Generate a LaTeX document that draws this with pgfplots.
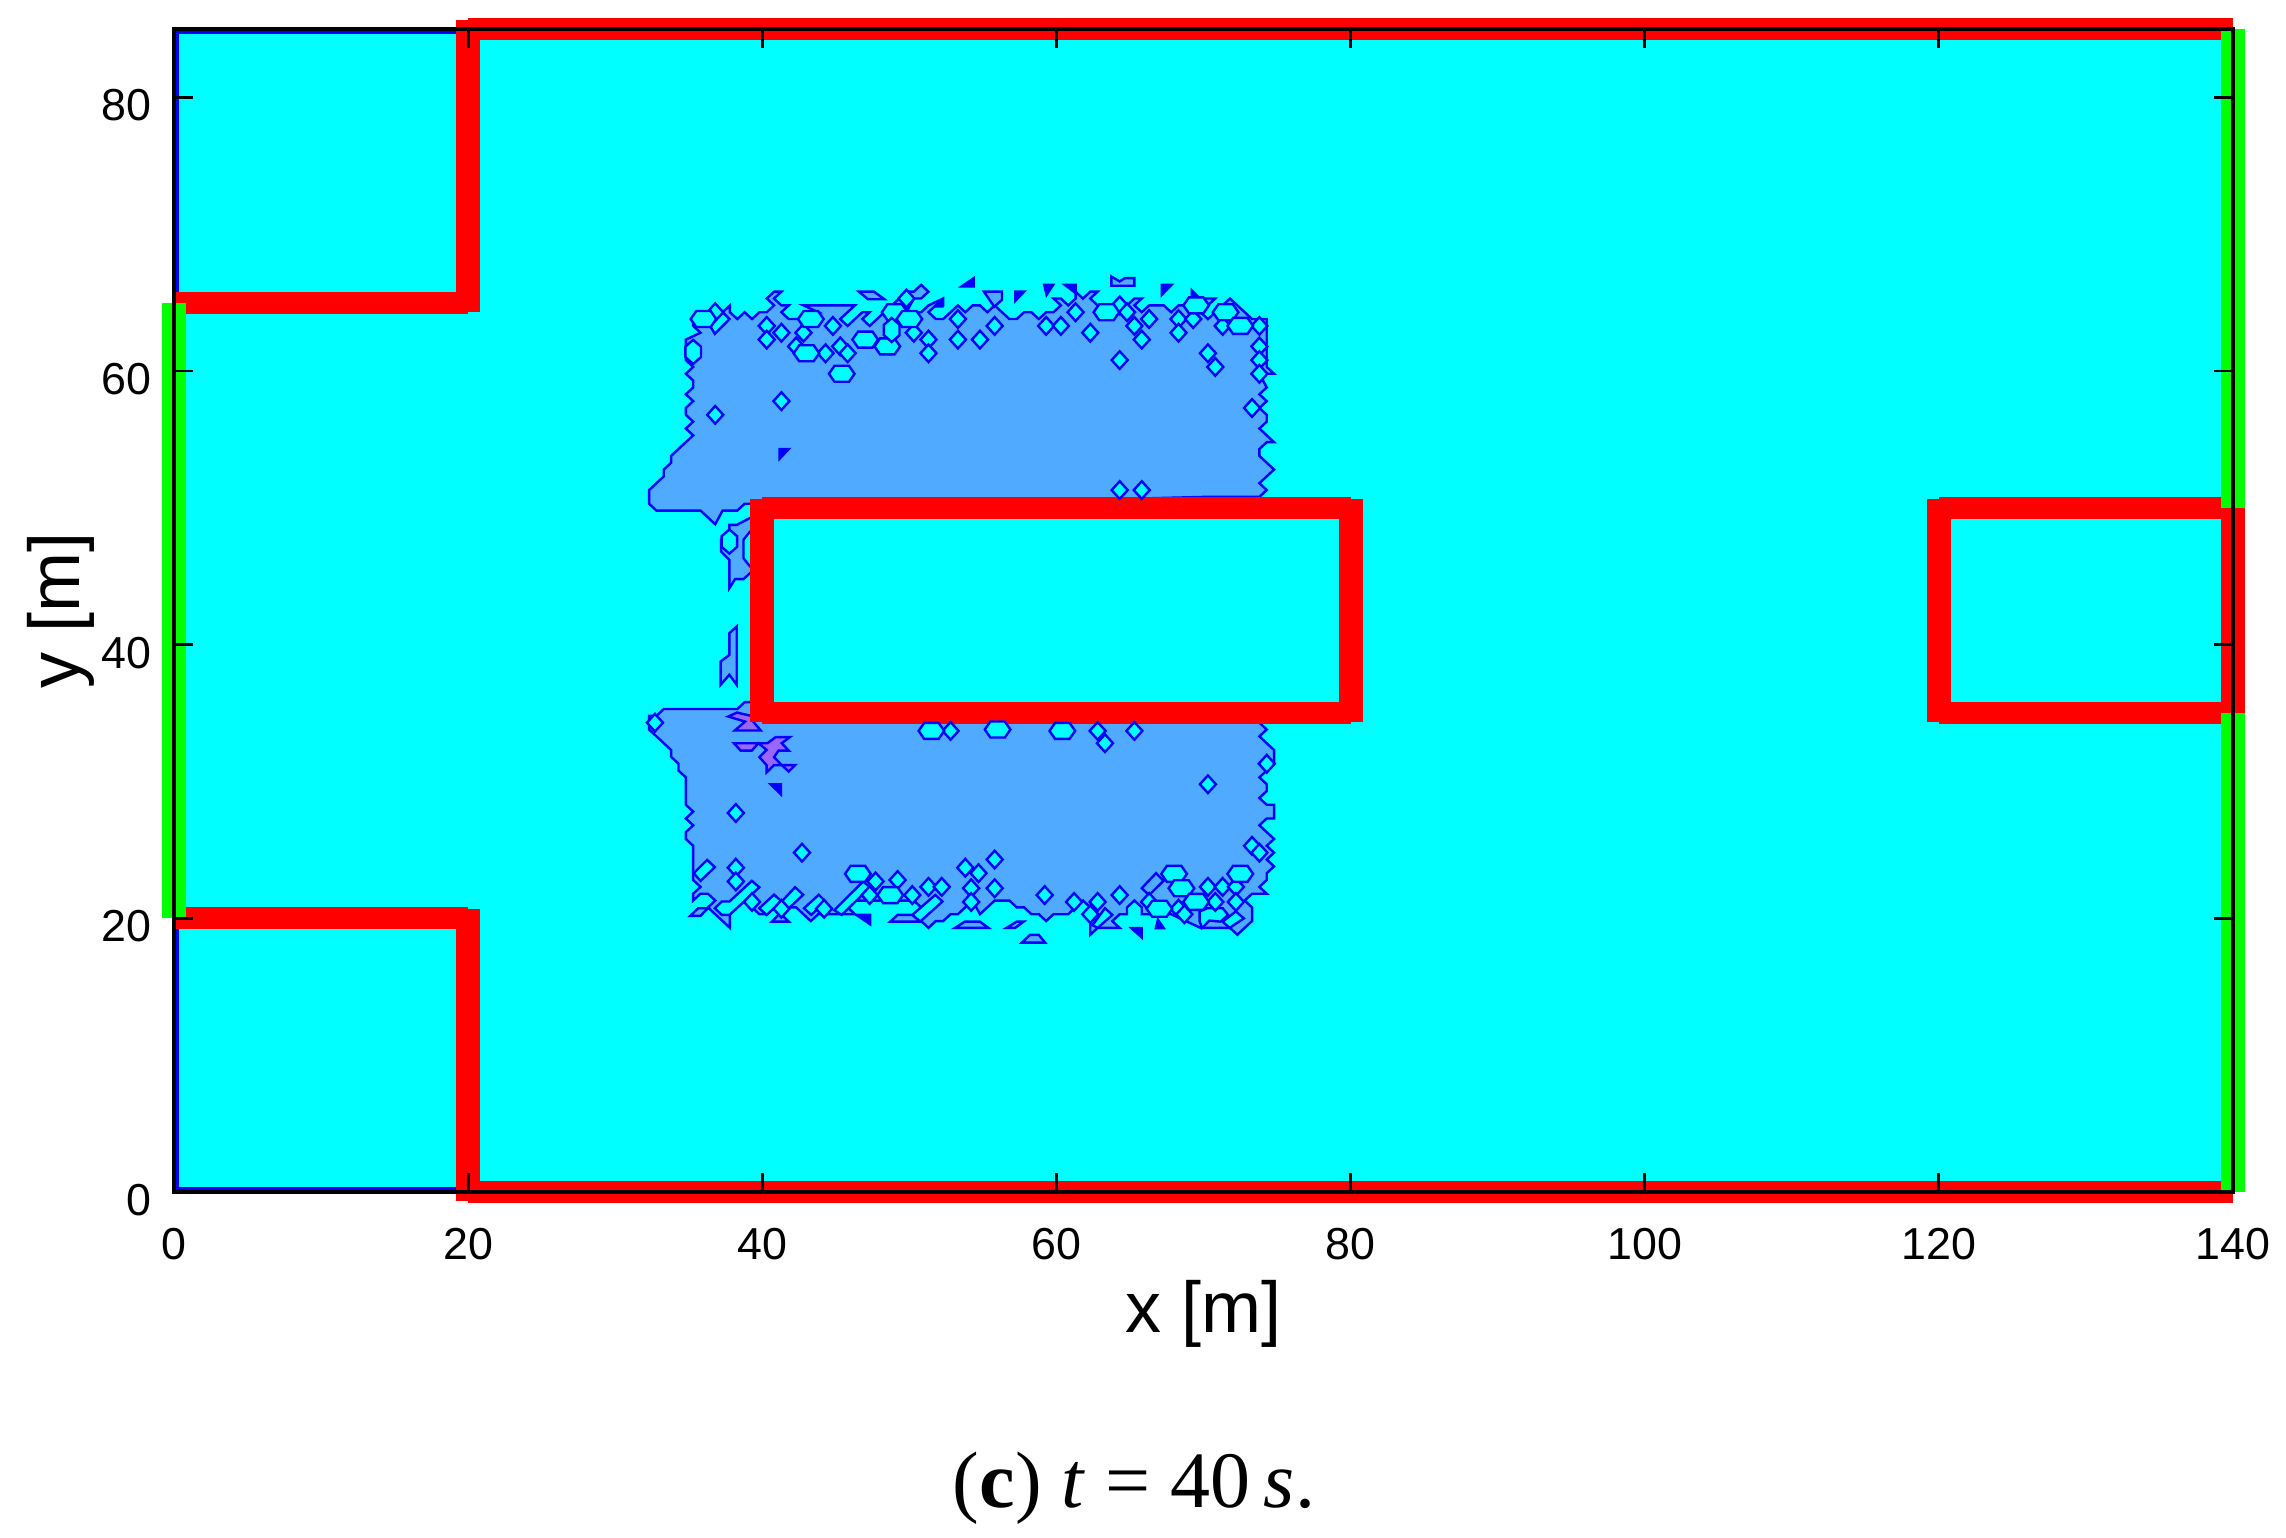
\documentclass[border=0pt]{standalone}
\usepackage{pgfplots}
\pgfplotsset{compat=1.18}
\usepackage{fontspec}
\setmainfont{Liberation Sans}
\newfontfamily\capfont{Liberation Serif}
\definecolor{lb}{RGB}{80,170,255}
\definecolor{pu}{RGB}{153,102,255}
\definecolor{cy}{RGB}{0,255,255}
\definecolor{bl}{RGB}{0,0,255}
\definecolor{rd}{RGB}{255,0,0}
\definecolor{gn}{RGB}{0,255,0}
\pgfdeclareplotmark{dia}{\pgfpathmoveto{\pgfqpoint{2.0pt}{0pt}}\pgfpathlineto{\pgfqpoint{0pt}{2.2pt}}\pgfpathlineto{\pgfqpoint{-2.0pt}{0pt}}\pgfpathlineto{\pgfqpoint{0pt}{-2.2pt}}\pgfpathclose\pgfusepathqfillstroke}
\pgfdeclareplotmark{hexw}{\pgfpathmoveto{\pgfqpoint{3.2pt}{0pt}}\pgfpathlineto{\pgfqpoint{1.8pt}{2.0pt}}\pgfpathlineto{\pgfqpoint{-1.8pt}{2.0pt}}\pgfpathlineto{\pgfqpoint{-3.2pt}{0pt}}\pgfpathlineto{\pgfqpoint{-1.8pt}{-2.0pt}}\pgfpathlineto{\pgfqpoint{1.8pt}{-2.0pt}}\pgfpathclose\pgfusepathqfillstroke}
\pgfdeclareplotmark{hext}{\pgfpathmoveto{\pgfqpoint{1.95pt}{1.3pt}}\pgfpathlineto{\pgfqpoint{0pt}{3.0pt}}\pgfpathlineto{\pgfqpoint{-1.95pt}{1.3pt}}\pgfpathlineto{\pgfqpoint{-1.95pt}{-1.3pt}}\pgfpathlineto{\pgfqpoint{0pt}{-3.0pt}}\pgfpathlineto{\pgfqpoint{1.95pt}{-1.3pt}}\pgfpathclose\pgfusepathqfillstroke}
\tikzset{
 reg/.style={draw=bl,fill=lb,line width=0.6pt,mark=none,line join=miter},
 hole/.style={draw=bl,fill=cy,line width=0.6pt,mark=none},
 tri/.style={draw=bl,fill=bl,line width=0.6pt,mark=none},
 pur/.style={draw=bl,fill=pu,line width=0.6pt,mark=none},
 rh/.style={draw=rd,line width=5.5pt,mark=none,line cap=butt},
 rv/.style={draw=rd,line width=6pt,mark=none,line cap=rect},
 gr/.style={draw=gn,line width=6pt,mark=none,line cap=butt},
 rim/.style={draw=bl,line width=1.25pt,mark=none},
}
\begin{document}
\begin{tikzpicture}[x=1pt,y=1pt]
\useasboundingbox (0,0) rectangle (571.5,384.5);
\begin{axis}[
 at={(43.5pt,86.5pt)},anchor=south west,
 scale only axis,width=514.75pt,height=290.75pt,
 xmin=0,xmax=140,ymin=0,ymax=85,
 clip=false,axis on top,
 axis line style={line width=0.85pt},
 xtick={0,20,...,140},ytick={0,20,...,80},
 tick align=inside,tick pos=both,
 major tick length=4.75pt,
 tick style={line width=0.7pt,black},
 /pgf/number format/assume math mode=true,
 ticklabel style={font=\fontsize{11.2}{13}\selectfont},
 xticklabel style={yshift=-5.6pt},
 yticklabel style={yshift=-2pt,xshift=-2.2pt},
 xlabel={x [m]},ylabel={y [m]},
 xlabel style={font=\fontsize{18}{20}\selectfont,at={(axis description cs:0.5,-0.105)},anchor=center},
 ylabel style={font=\fontsize{18}{20}\selectfont,at={(axis description cs:-0.055,0.5)},anchor=center},
]
% background
\addplot[draw=none,fill=cy,mark=none] coordinates {(0,0)(140,0)(140,85)(0,85)} --cycle;
% upper patch
\addplot[reg] coordinates {(40,50)(39.3,50.3)(38.8,50.3)(38.3,49.8)(37.3,49.8)(36.8,48.8)(35.8,49.8)(32.8,49.8)(32.3,50.3)(32.3,51.3)(33.3,52.3)(33.3,52.8)(33.8,53.3)(33.8,53.8)(35.3,55.3)(34.8,55.8)(35.3,56.3)(34.8,56.8)(34.8,57.3)(35.3,57.8)(34.8,58.3)(35.3,58.8)(35.3,59.3)(34.8,59.8)(35.3,60.3)(34.8,60.8)(34.8,62.3)(35.8,62.8)(35.3,63.3)(35.3,63.8)(35.8,64.3)(36.3,64.3)(36.8,64.8)(37.3,64.3)(37.8,64.8)(37.8,64.3)(38.3,63.8)(38.8,64.3)(39.3,63.8)(39.8,64.3)(40.3,64.3)(40.8,64.8)(40.3,65.3)(40.8,65.8)(41.3,65.8)(40.8,65.3)(41.3,64.8)(41.8,64.8)(41.3,64.3)(41.8,63.8)(42.8,63.8)(43.3,64.3)(43.8,64.3)(42.8,64.8)(46.3,64.8)(45.3,63.8)(45.8,63.3)(46.8,64.3)(47.3,64.3)(46.8,63.8)(47.3,63.3)(48.3,64.3)(49.8,65.8)(50.3,65.8)(50.8,66.3)(51.3,65.8)(50.8,65.3)(50.3,65.3)(49.8,64.3)(50.8,64.3)(51.3,64.8)(52.3,65.3)(52.3,64.8)(51.8,64.8)(51.3,64.3)(51.8,63.8)(52.3,63.8)(53.3,64.8)(53.8,64.3)(54.3,64.8)(54.8,64.8)(55.3,64.3)(55.8,64.8)(56.3,64.3)(56.8,63.8)(57.3,63.8)(57.8,64.3)(58.3,64.3)(58.8,63.8)(59.3,64.3)(59.8,64.3)(60.3,64.8)(59.8,65.3)(60.3,65.3)(60.8,64.8)(61.3,65.3)(61.3,65.8)(61.8,65.3)(62.3,65.8)(62.8,65.8)(62.3,65.3)(62.8,64.8)(63.8,64.8)(64.3,65.3)(64.8,64.8)(65.3,65.3)(65.8,65.3)(65.3,64.8)(65.8,64.3)(66.3,64.8)(67.3,64.8)(67.8,64.3)(68.3,64.8)(68.8,64.8)(69.3,65.3)(70.8,65.3)(69.8,64.3)(70.3,63.8)(71.8,65.3)(73.3,63.8)(74.3,63.8)(74.3,60.3)(74.8,59.8)(73.8,59.8)(74.3,58.8)(73.8,58.3)(74.3,57.8)(73.8,57.3)(74.3,56.8)(74.3,56.3)(73.8,55.8)(74.8,54.8)(74.3,54.8)(73.8,54.3)(73.8,53.8)(74.8,52.8)(73.8,51.8)(74.3,51.3)(73.8,50.8)(70,50.8)(40,50)} --cycle;
% lobes left of the obstacle
\addplot[reg] coordinates {(39.6,49.5)(38.26,48.76)(37.76,48.76)(37.76,48.27)(37.2,47.67)(37.2,46.8)(37.76,46.2)(37.76,44.13)(38.15,44.79)(38.72,44.79)(39.17,45.23)(39.6,45.2)} --cycle;
\addplot[hole] coordinates {(39.6,48.27)(39.17,48.27)(38.72,47.67)(38.72,46.32)(39.17,45.72)(39.6,45.72)} --cycle;
\addplot[reg] coordinates {(37.76,40.84)(38.26,41.33)(38.26,37.07)(37.76,37.8)(37.17,37.07)(37.17,38.77)(37.76,39.26)} --cycle;
% lower patch
\addplot[reg] coordinates {(40,35)(39.3,35.8)(38.8,35.8)(38.3,35.3)(33.3,35.3)(32.8,34.8)(32.3,34.8)(32.3,33.8)(33.8,32.3)(33.8,31.8)(34.3,31.3)(34.3,30.8)(34.8,30.3)(34.8,28.3)(35.3,27.8)(34.8,27.3)(35.3,26.8)(34.8,26.3)(34.8,25.8)(35.3,25.3)(35.3,22.8)(35.8,22.3)(35.3,21.8)(35.3,21.3)(35.8,21.8)(36.3,21.8)(36.8,21.3)(36.3,20.8)(37.8,19.3)(37.8,20.3)(38.8,21.3)(39.8,20.3)(40.3,20.3)(40.8,20.8)(42.3,20.8)(43.3,19.8)(43.8,20.3)(46.3,20.3)(45.8,20.8)(46.3,21.3)(50.3,21.3)(50.8,20.8)(50.3,20.3)(51.3,19.3)(51.8,19.8)(52.3,19.8)(52.8,20.3)(53.3,20.3)(54.3,21.3)(54.8,20.3)(55.8,21.3)(56.8,21.3)(57.3,20.8)(57.8,20.8)(58.3,20.3)(58.8,20.3)(59.3,19.8)(59.8,20.3)(60.8,20.3)(61.8,21.3)(62.3,20.8)(62.3,18.8)(62.8,19.3)(64.3,19.3)(63.8,19.8)(64.3,20.3)(64.8,20.3)(64.8,20.8)(65.3,21.3)(65.8,20.8)(65.8,20.3)(66.8,20.3)(67.8,20.3)(68.8,19.8)(69.8,19.3)(71.8,19.3)(72.3,18.8)(73.3,19.8)(73.3,20.8)(72.8,21.3)(73.3,21.8)(74.3,21.8)(73.8,22.3)(74.3,22.8)(74.3,23.3)(74.8,23.8)(74.3,24.3)(74.8,24.8)(74.3,25.3)(74.8,25.8)(73.8,26.8)(74.3,27.3)(74.8,27.3)(74.8,28.3)(74.3,28.3)(73.8,28.8)(74.3,29.3)(74.3,29.8)(73.8,30.3)(74.8,31.3)(74.8,32.3)(73.8,33.3)(74.3,33.8)(73.8,34.3)(70,35)} --cycle;
% slanted cells inside the lower band
\addplot[hole] coordinates {(35.34,23.3)(36.25,24.27)(36.77,23.74)(35.8,22.74)} --cycle;
\addplot[hole] coordinates {(36.77,20.74)(37.25,21.23)(37.77,21.23)(39.29,22.74)(39.8,22.27)(37.77,20.25)(37.25,20.25)} --cycle;
\addplot[hole] coordinates {(39.8,20.74)(40.8,21.73)(41.32,21.23)(40.29,20.25)} --cycle;
\addplot[hole] coordinates {(41.32,21.23)(42.23,22.27)(42.78,21.72)(41.8,20.74)} --cycle;
\addplot[hole] coordinates {(42.84,20.74)(43.84,21.72)(44.3,21.23)(43.32,20.25)} --cycle;
\addplot[hole] coordinates {(44.9,20.6)(46.85,22.69)(47.33,22.27)(45.4,20.25)} --cycle;
\addplot[hole] coordinates {(50.2,20.25)(51.76,21.71)(52.25,21.23)(50.73,19.76)} --cycle;
\addplot[hole] coordinates {(62.45,19.5)(63.3,20.74)(63.8,20.25)(62.8,19.3)} --cycle;
\addplot[reg] coordinates {(65.8,22.2)(66.77,23.3)(67.28,22.74)(66.3,21.7)} --cycle;
\addplot[hole] coordinates {(69.74,20.5)(70.26,20.74)(71.3,20.74)(71.67,20.25)(71.16,19.76)(70.4,19.84)(69.9,19.3)(69.74,19.76)} --cycle;
\addplot[hole] coordinates {(71.3,19.76)(72.2,20.5)(72.74,20)(71.77,19.3)} --cycle;
\addplot[hole] coordinates {(36.45,63.3)(36.77,62.72)(37.77,63.8)(37.3,64.3)} --cycle;
% small islands outside the patches
\addplot[reg] coordinates {(35.1,20.18)(35.64,20.74)(36.3,20.74)(35.8,20.18)} --cycle;
\addplot[reg] coordinates {(40.65,19.76)(41.2,20.37)(41.8,19.76)} --cycle;
\addplot[reg] coordinates {(48.7,19.76)(49.2,20.25)(50.2,20.25)(50.73,19.76)} --cycle;
\addplot[reg] coordinates {(53.1,19.3)(53.77,19.76)(54.8,19.76)(55.38,19.3)} --cycle;
\addplot[reg] coordinates {(56.6,19.3)(57.3,19.76)(57.77,19.76)(57.2,19.3)} --cycle;
\addplot[reg] coordinates {(57.65,18.23)(58.2,18.79)(58.8,18.79)(59.23,18.23)} --cycle;
\addplot[reg] coordinates {(63.73,66.91)(63.73,66.23)(65.3,66.23)(65.3,66.79)(64.65,66.79)(64.3,66.55)} --cycle;
\addplot[reg] coordinates {(55.07,65.8)(56.3,65.8)(56.3,65.2)(55.77,64.7)} --cycle;
\addplot[reg] coordinates {(46.57,65.8)(47.6,65.8)(48.3,65.25)(47.18,65.25)} --cycle;
\addplot[tri] coordinates {(46.4,20.25)(47.33,20.25)(47.33,19.57)} --cycle;
\addplot[tri] coordinates {(65.1,19.28)(65.8,19.28)(65.8,18.6)} --cycle;
\addplot[tri] coordinates {(66.76,19.28)(67.3,19.28)(66.9,19.9)} --cycle;
\addplot[tri] coordinates {(40.56,29.8)(41.26,29.8)(41.26,29.07)} --cycle;
\addplot[tri] coordinates {(53.55,66.18)(54.38,66.79)(54.38,66.18)} --cycle;
\addplot[tri] coordinates {(59.17,66.3)(59.78,66.3)(59.33,65.57)} --cycle;
\addplot[tri] coordinates {(57.2,65.8)(57.8,65.8)(57.2,65.13)} --cycle;
\addplot[tri] coordinates {(60.57,66.3)(61.3,66.3)(61.3,65.7)} --cycle;
\addplot[tri] coordinates {(67.16,66.3)(67.83,66.3)(67.16,65.57)} --cycle;
\addplot[tri] coordinates {(69.2,65.9)(69.8,65.25)(69.2,65.25)} --cycle;
\addplot[tri] coordinates {(51.73,64.72)(52.25,65.25)(52.25,64.72)} --cycle;
\addplot[tri] coordinates {(41.17,54.3)(41.8,54.3)(41.17,53.58)} --cycle;
% purple cells
\addplot[pur] coordinates {(37.68,34.75)(38.28,35.04)(39.44,34.75)(39.8,34.87)(39.29,34.5)(39.89,33.73)(38.13,33.73)(38.83,34.38)} --cycle;
\addplot[pur] coordinates {(38.07,32.8)(40.35,32.8)(40.9,33.24)(41.87,33.24)(41.32,32.8)(41.8,32.26)(41.1,32.26)(40.8,31.78)(41.32,31.2)(42.23,31.2)(41.8,30.73)(41.32,31.2)(40.8,31.2)(40.29,30.66)(40.29,31.2)(39.8,31.78)(40.29,32.31)(39.74,32.8)(39.29,32.26)(38.53,32.26)} --cycle;
% diamond-shaped cells
\addplot[only marks,mark=dia,mark options={draw=bl,fill=cy,line width=0.6pt}] coordinates {(36.8,64.3)(40.3,63.3)(41.3,62.8)(42.8,62.8)(40.3,62.3)(42.3,61.8)(44.8,63.3)(45.3,61.8)(45.8,61.3)(44.3,61.3)(50.3,62.8)(51.3,62.3)(51.3,61.3)(53.3,63.8)(53.3,62.3)(54.8,62.3)(55.8,63.3)(59.3,63.3)(60.3,63.3)(61.3,64.3)(62.3,62.8)(64.3,64.8)(64.8,64.3)(65.3,63.3)(66.3,63.8)(65.8,62.3)(64.3,60.8)(68.3,63.8)(69.3,63.8)(68.3,62.8)(71.3,63.3)(73.8,63.3)(70.3,61.3)(70.8,60.3)(73.8,61.8)(73.8,60.8)(73.8,59.8)(73.3,57.3)(41.3,57.8)(36.8,56.8)(64.3,51.3)(65.8,51.3)(49.8,65.3)
(32.7,34.3)(52.8,33.7)(62.8,33.7)(65.3,33.7)(63.3,32.8)(74.3,31.3)(70.3,29.8)(38.2,27.7)(42.7,24.8)(38.2,23.7)(38.2,22.7)(53.8,23.7)(54.7,23.3)(55.8,24.3)(49.2,22.8)(47.7,22.7)(51.3,22.3)(52.2,22.3)(54.2,22.2)(55.8,22.2)(54.2,21.2)(59.2,21.7)(61.2,21.2)(62.8,21.2)(64.3,21.7)(62.3,20.3)(70.3,22.3)(71.3,22.3)(72.2,22.3)(72.2,21.2)(70.8,21.2)(66.3,21.2)(68.3,20.7)(68.7,20.3)(73.3,25.3)(73.8,24.8)(39.3,21.2)(41.3,20.7)(44.2,20.7)(47.3,21.7)(50.2,21.7)};
% hexagonal cells
\addplot[only marks,mark=hexw,mark options={draw=bl,fill=cy,line width=0.6pt}] coordinates {(36,63.8)(43.3,63.8)(49,64.3)(50,63.8)(47,62.3)(48.5,61.8)(43,61.3)(45.4,59.8)(63.4,64.3)(69.5,64.8)(71.5,64.3)(72.5,63.3)
(51.5,33.7)(60.4,33.7)(56,33.8)(46.5,23.25)(48.7,21.7)(68,23.25)(68.5,22.2)(69.5,21.2)(67,20.7)(72.5,23.25)};
\addplot[only marks,mark=hext,mark options={draw=bl,fill=cy,line width=0.6pt}] coordinates {(35.3,61.4)(48.8,63)(37.76,47.54)};
% rim of the domain
\addplot[rim] coordinates {(0.17,65)(0.17,84.82)(20,84.82)};
\addplot[rim] coordinates {(0.17,20)(0.17,0.18)(20,0.18)};
% walls
\addplot[rh] coordinates {(20,85)(140,85)};
\addplot[rh] coordinates {(20,0)(140,0)};
\addplot[rh] coordinates {(0,65)(20,65)};
\addplot[rh] coordinates {(0,20)(20,20)};
\addplot[rv] coordinates {(20,65.2)(20,84.8)};
\addplot[rv] coordinates {(20,0.2)(20,19.8)};
\addplot[rh] coordinates {(40,50)(80,50)};
\addplot[rh] coordinates {(40,35)(80,35)};
\addplot[rv] coordinates {(40,35.2)(40,49.8)};
\addplot[rv] coordinates {(80,35.2)(80,49.8)};
\addplot[rh] coordinates {(120,50)(140,50)};
\addplot[rh] coordinates {(120,35)(140,35)};
\addplot[rv] coordinates {(120,35.2)(120,49.8)};
% inlets and outlets
\addplot[gr] coordinates {(0,20)(0,65)};
\addplot[gr] coordinates {(140,0)(140,85)};
\addplot[draw=rd,line width=6pt,mark=none] coordinates {(140,35)(140,50)};
\end{axis}
\node[anchor=center,font=\capfont\fontsize{20}{24}\selectfont] at (283.5,12.5) {(\textbf{c}) \textit{t} = 40\,\textit{s}.};
\end{tikzpicture}
\end{document}
